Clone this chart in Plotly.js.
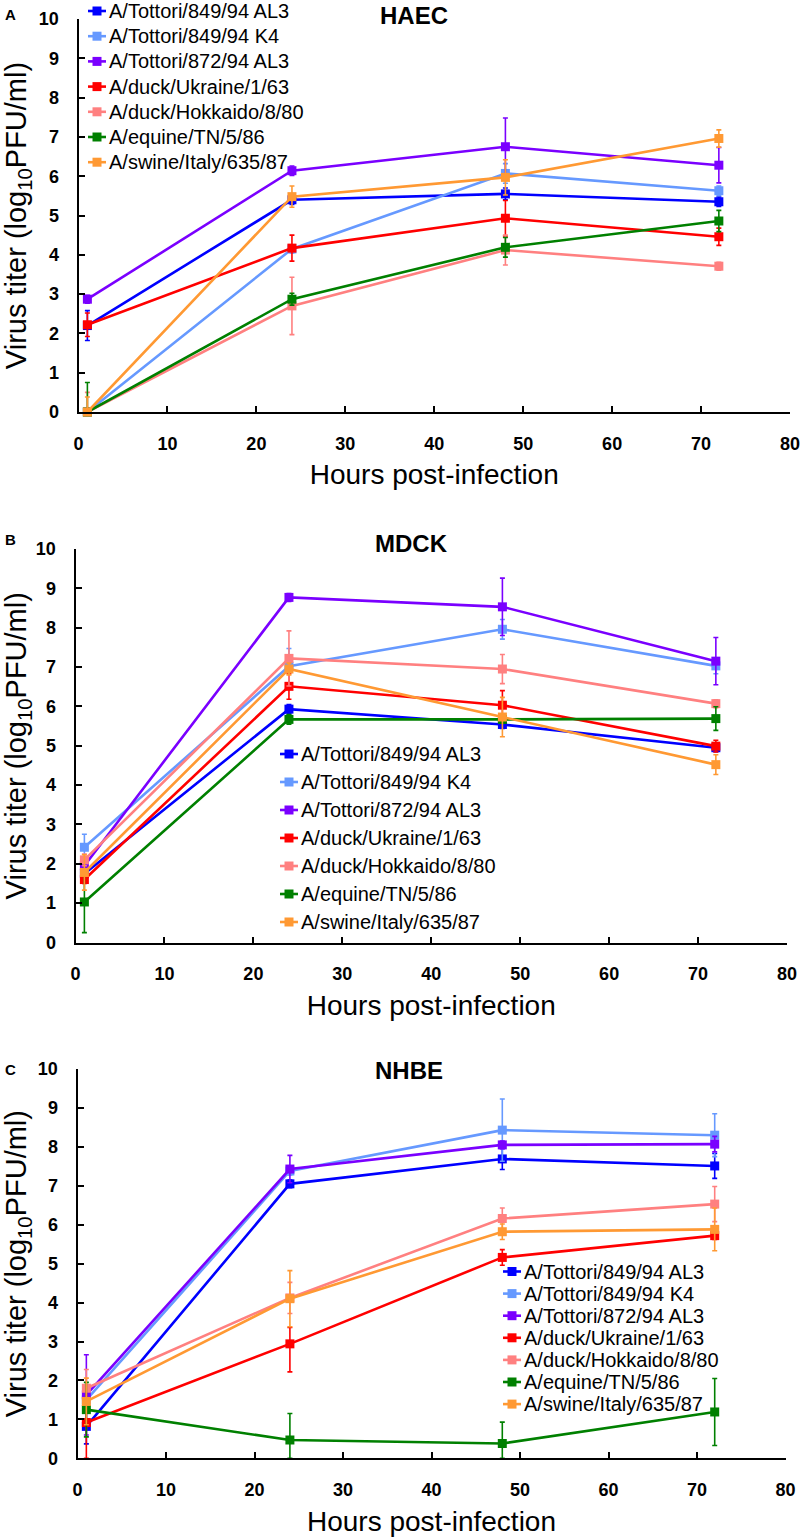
<!DOCTYPE html>
<html>
<head>
<meta charset="utf-8">
<script src="https://cdn.plot.ly/plotly-3.0.1.min.js"></script>
<style>html,body{margin:0;padding:0;background:#fff;}#chart{width:800px;height:1537px;}</style>
</head>
<body>
<div id="chart"></div>
<script>
// ---------------- DATA ----------------
const hours = [1, 24, 48, 72];
const strains = ['A/Tottori/849/94 AL3', 'A/Tottori/849/94 K4', 'A/Tottori/872/94 AL3',
  'A/duck/Ukraine/1/63', 'A/duck/Hokkaido/8/80', 'A/equine/TN/5/86', 'A/swine/Italy/635/87'];
const panelTitles = ['HAEC', 'MDCK', 'NHBE'];
const panelLetters = ['A', 'B', 'C'];
const xTicks = [0, 10, 20, 30, 40, 50, 60, 70, 80];
const yTicks = [0, 1, 2, 3, 4, 5, 6, 7, 8, 9, 10];

// HAEC (panel A): mean titer per strain, error up / down
const haecMean = [
  [2.20, 5.40, 5.55, 5.35],
  [0.00, 4.15, 6.07, 5.63],
  [2.87, 6.14, 6.75, 6.28],
  [2.22, 4.17, 4.93, 4.46],
  [0.00, 2.70, 4.12, 3.71],
  [0.00, 2.87, 4.19, 4.86],
  [0.00, 5.48, 5.97, 6.96]
];
const haecErrUp = [
  [0.38, 0.12, 0.15, 0.12],
  [0.10, 0.10, 0.25, 0.12],
  [0.10, 0.12, 0.73, 0.45],
  [0.30, 0.33, 0.45, 0.22],
  [0.50, 0.73, 0.38, 0.10],
  [0.75, 0.15, 0.25, 0.27],
  [0.38, 0.27, 0.45, 0.22]
];
const haecErrDown = [
  [0.38, 0.12, 0.15, 0.12],
  [0.00, 0.10, 0.25, 0.12],
  [0.10, 0.12, 0.73, 0.45],
  [0.30, 0.33, 0.45, 0.22],
  [0.00, 0.73, 0.38, 0.10],
  [0.00, 0.15, 0.25, 0.27],
  [0.00, 0.27, 0.45, 0.22]
];

// MDCK (panel B)
const mdckMean = [
  [1.75, 5.93, 5.54, 4.95],
  [2.42, 7.02, 7.96, 7.03],
  [1.95, 8.77, 8.53, 7.15],
  [1.60, 6.51, 6.03, 4.99],
  [2.10, 7.22, 6.95, 6.07],
  [1.03, 5.67, 5.67, 5.69],
  [1.78, 6.95, 5.73, 4.52]
];
const mdckErrUp = [
  [0.10, 0.12, 0.10, 0.10],
  [0.33, 0.45, 0.25, 0.20],
  [0.10, 0.10, 0.73, 0.60],
  [0.10, 0.33, 0.37, 0.15],
  [0.15, 0.70, 0.37, 0.10],
  [0.78, 0.12, 0.10, 0.30],
  [0.45, 0.15, 0.50, 0.25]
];
const mdckErrDown = [
  [0.10, 0.12, 0.10, 0.10],
  [0.33, 0.45, 0.25, 0.20],
  [0.10, 0.10, 0.73, 0.60],
  [0.10, 0.33, 0.37, 0.15],
  [0.15, 0.70, 0.37, 0.10],
  [0.78, 0.12, 0.10, 0.30],
  [0.45, 0.15, 0.50, 0.25]
];

// NHBE (panel C)
const nhbeMean = [
  [0.82, 7.05, 7.69, 7.51],
  [1.50, 7.38, 8.43, 8.30],
  [1.63, 7.43, 8.05, 8.07],
  [0.92, 2.94, 5.16, 5.72],
  [1.80, 4.12, 6.16, 6.53],
  [1.25, 0.47, 0.38, 1.19],
  [1.46, 4.10, 5.82, 5.88]
];
const nhbeErrUp = [
  [0.45, 0.10, 0.27, 0.32],
  [0.10, 0.10, 0.80, 0.55],
  [1.03, 0.35, 0.10, 0.20],
  [0.92, 0.42, 0.20, 0.10],
  [0.48, 0.40, 0.27, 0.45],
  [0.70, 0.68, 0.55, 0.86],
  [0.60, 0.72, 0.20, 0.55]
];
const nhbeErrDown = [
  [0.45, 0.10, 0.27, 0.32],
  [0.10, 0.10, 0.80, 0.55],
  [1.03, 0.35, 0.10, 0.20],
  [0.92, 0.72, 0.20, 0.10],
  [0.48, 0.40, 0.27, 0.45],
  [0.70, 0.47, 0.38, 0.86],
  [0.60, 0.72, 0.20, 0.55]
];

// ---------------- STYLE ----------------
const colors = ['#0000FF', '#6699FF', '#7A00FF', '#FF0000', '#FF8080', '#008000', '#FF9933'];
const W = 800, H = 1537;
const fx = p => p / W;
const fy = p => 1 - p / H;
const FONT = 'Liberation Sans, Arial, sans-serif';

const panels = [
  {mean: haecMean, up: haecErrUp, down: haecErrDown, xa: 'x', ya: 'y'},
  {mean: mdckMean, up: mdckErrUp, down: mdckErrDown, xa: 'x2', ya: 'y2'},
  {mean: nhbeMean, up: nhbeErrUp, down: nhbeErrDown, xa: 'x3', ya: 'y3'}
];

const traces = [];
panels.forEach((p, pi) => {
  strains.forEach((s, si) => {
    traces.push({
      type: 'scatter', mode: 'lines+markers',
      x: hours, y: p.mean[si], name: s, xaxis: p.xa, yaxis: p.ya,
      showlegend: false, cliponaxis: false,
      line: {color: colors[si], width: 2.6},
      marker: {symbol: 'square', size: 9, color: colors[si]},
      error_y: {type: 'data', symmetric: false, array: p.up[si], arrayminus: p.down[si],
        color: colors[si], thickness: 1.6, width: 2.5}
    });
  });
});

const axisCommon = {
  range: [0, 10], showline: true, linecolor: '#000', linewidth: 2,
  ticks: 'inside', ticklen: 6, tickwidth: 2, tickcolor: '#000',
  showgrid: false, zeroline: false, fixedrange: true, ticklabeloverflow: 'allow',
  tickfont: {family: FONT, size: 18, weight: 'bold', color: '#000'}
};
function xAxis(dom, anchor) {
  return Object.assign({}, axisCommon, {
    domain: dom, anchor: anchor, range: [0, 80], tickmode: 'array', tickvals: xTicks,
    ticklabelstandoff: 14,
    title: {text: 'Hours post-infection', font: {family: FONT, size: 28, color: '#000'}, standoff: 12}
  });
}
function yAxis(dom, anchor) {
  return Object.assign({}, axisCommon, {
    domain: dom, anchor: anchor, range: [0, 10], tickmode: 'array', tickvals: yTicks,
    ticklabelstandoff: 14,
    title: {text: 'Virus titer (log<sub>10</sub>PFU/ml)', font: {family: FONT, size: 29, color: '#000'}, standoff: 6}
  });
}

// panel geometry (pixels)
const geo = [
  {x0: 78.5, x1: 790, yb: 412, yt: 19, title: [413.5, 15.5], letter: [3, 15],
   leg: {lx: 88, tx: 108, y0: 11, dy: 25.2}},
  {x0: 75.5, x1: 787, yb: 942.5, yt: 549, title: [411, 543], letter: [3, 539],
   leg: {lx: 280, tx: 300, y0: 754, dy: 28}},
  {x0: 77.5, x1: 785.5, yb: 1458.3, yt: 1069, title: [409, 1070], letter: [3, 1069],
   leg: {lx: 503, tx: 523, y0: 1271.5, dy: 22.1}}
];

const layout = {
  width: W, height: H, margin: {l: 0, r: 0, t: 0, b: 0},
  paper_bgcolor: '#fff', plot_bgcolor: 'rgba(0,0,0,0)', showlegend: false,
  font: {family: FONT, color: '#000'},
  xaxis: xAxis([fx(geo[0].x0), fx(geo[0].x1)], 'y'),
  yaxis: yAxis([fy(geo[0].yb), fy(geo[0].yt)], 'x'),
  xaxis2: xAxis([fx(geo[1].x0), fx(geo[1].x1)], 'y2'),
  yaxis2: yAxis([fy(geo[1].yb), fy(geo[1].yt)], 'x2'),
  xaxis3: xAxis([fx(geo[2].x0), fx(geo[2].x1)], 'y3'),
  yaxis3: yAxis([fy(geo[2].yb), fy(geo[2].yt)], 'x3'),
  annotations: [], shapes: []
};

geo.forEach((g, gi) => {
  layout.annotations.push({
    text: '<b>' + panelTitles[gi] + '</b>', xref: 'paper', yref: 'paper',
    x: fx(g.title[0]), y: fy(g.title[1]), xanchor: 'center', yanchor: 'middle',
    showarrow: false, font: {family: FONT, size: 24, color: '#000'}
  });
  layout.annotations.push({
    text: '<b>' + panelLetters[gi] + '</b>', xref: 'paper', yref: 'paper',
    x: fx(g.letter[0]), y: fy(g.letter[1]), xanchor: 'left', yanchor: 'middle',
    showarrow: false, font: {family: FONT, size: 15, color: '#000'}
  });
  strains.forEach((s, si) => {
    const yy = g.leg.y0 + si * g.leg.dy;
    layout.annotations.push({
      text: s, xref: 'paper', yref: 'paper', x: fx(g.leg.tx), y: fy(yy),
      xanchor: 'left', yanchor: 'middle', showarrow: false, borderpad: 0,
      font: {family: FONT, size: 20, color: '#000'}
    });
    layout.shapes.push({
      type: 'line', xref: 'paper', yref: 'paper',
      x0: fx(g.leg.lx), x1: fx(g.leg.tx - 2), y0: fy(yy), y1: fy(yy),
      line: {color: colors[si], width: 2.6}
    });
    const mx = (g.leg.lx + g.leg.tx - 2) / 2;
    layout.shapes.push({
      type: 'rect', xref: 'paper', yref: 'paper',
      x0: fx(mx - 4.5), x1: fx(mx + 4.5), y0: fy(yy + 4.5), y1: fy(yy - 4.5),
      line: {width: 0}, fillcolor: colors[si]
    });
  });
});

Plotly.newPlot('chart', traces, layout, {staticPlot: true, displayModeBar: false});
</script>
</body>
</html>
